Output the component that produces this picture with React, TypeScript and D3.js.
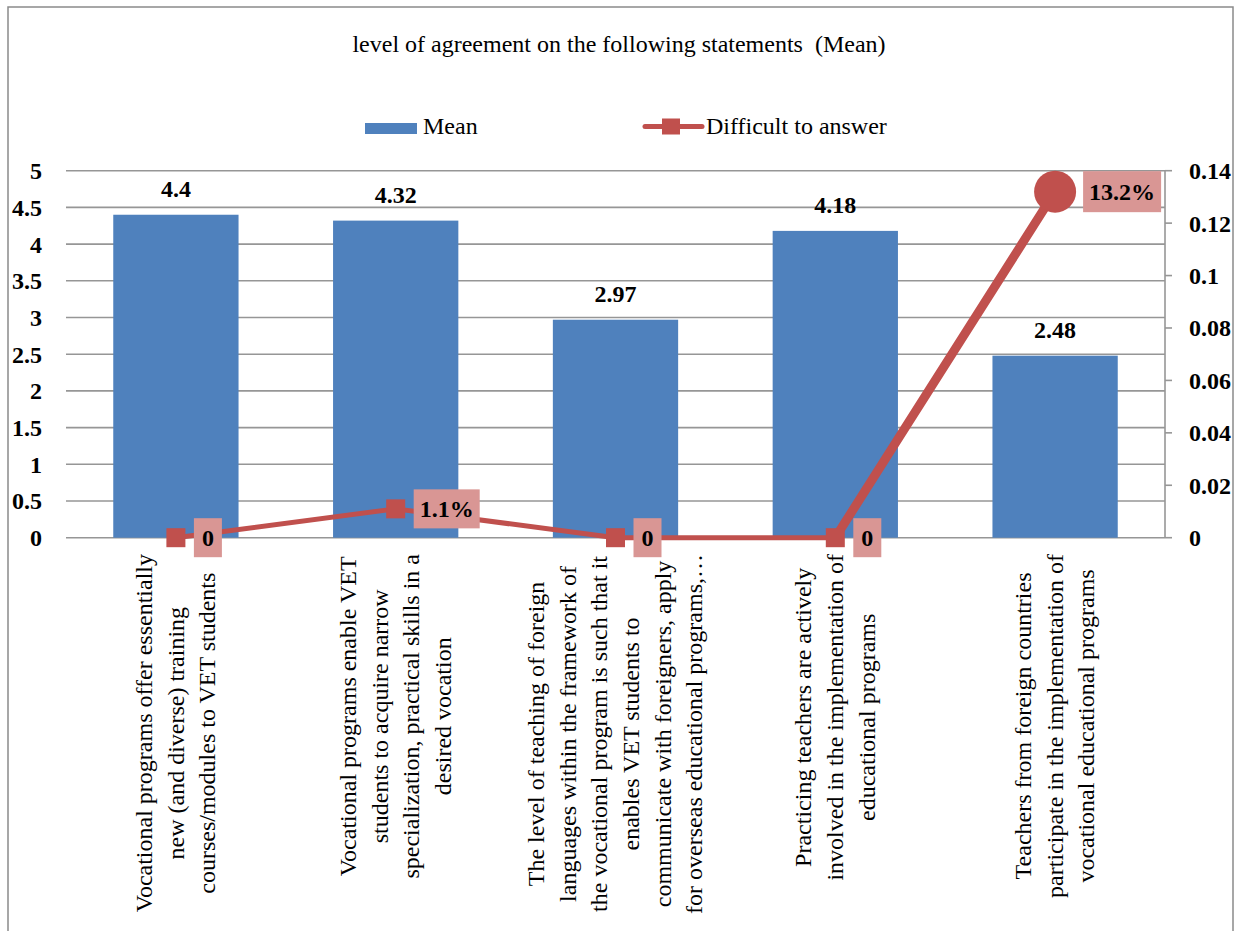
import React, { useEffect, useRef } from "react";
import * as d3 from "d3";

const TITLE = "level of agreement on the following statements  (Mean)";
const categories = [
  ["Vocational programs offer essentially", "new (and diverse) training", "courses/modules to VET students"],
  ["Vocational programs enable VET", "students to acquire narrow", "specialization, practical skills in a", "desired vocation"],
  ["The level of teaching of foreign", "languages within the framework of", "the vocational program is such that it", "enables VET students to", "communicate with foreigners, apply", "for overseas educational programs,…"],
  ["Practicing teachers are actively", "involved in the implementation of", "educational programs"],
  ["Teachers from foreign countries", "participate in the implementation of", "vocational educational programs"],
];
const meanValues = [4.4, 4.32, 2.97, 4.18, 2.48];
const meanLabels = ["4.4", "4.32", "2.97", "4.18", "2.48"];
const difficultValues = [0, 0.011, 0, 0, 0.132];
const difficultLabels = ["0", "1.1%", "0", "0", "13.2%"];
const leftTicks = [0, 0.5, 1, 1.5, 2, 2.5, 3, 3.5, 4, 4.5, 5];
const leftTickLabels = ["0", "0.5", "1", "1.5", "2", "2.5", "3", "3.5", "4", "4.5", "5"];
const rightTicks = [0, 0.02, 0.04, 0.06, 0.08, 0.1, 0.12, 0.14];
const rightTickLabels = ["0", "0.02", "0.04", "0.06", "0.08", "0.1", "0.12", "0.14"];
const legendLabels = ["Mean", "Difficult to answer"];

const W = 1236, H = 931;
const BAR = "#4F81BD", LINE = "#C0504D", LBOX = "#D99694", GRID = "#969696";
const FS = 24;

export default function App() {
  const ref = useRef<SVGSVGElement | null>(null);
  useEffect(() => {
    const svg = d3.select(ref.current);
    svg.selectAll("*").remove();
    const x0 = 66, x1 = 1165, yT = 170.7, yB = 537.7;
    const ids = categories.map((_, i) => String(i));
    const x = d3.scaleBand().domain(ids).range([x0, x1]).paddingInner(0.43).paddingOuter(0.215);
    const yL = d3.scaleLinear().domain([0, 5]).range([yB, yT]);
    const yR = d3.scaleLinear().domain([0, 0.14]).range([yB, yT]);
    const cx = (i: number) => (x(String(i)) as number) + x.bandwidth() / 2;

    svg.append("rect").attr("x", 8).attr("y", 7).attr("width", 1225).attr("height", 980)
      .attr("fill", "#fff").attr("stroke", "#8a8a8a").attr("stroke-width", 1.5);

    svg.append("text").attr("x", 619).attr("y", 52).attr("text-anchor", "middle")
      .style("white-space", "pre").attr("font-size", FS).text(TITLE);

    // legend
    svg.append("rect").attr("x", 365).attr("y", 123).attr("width", 52).attr("height", 11).attr("fill", BAR);
    svg.append("text").attr("x", 423).attr("y", 133.5).attr("font-size", FS).text(legendLabels[0]);
    svg.append("line").attr("x1", 645).attr("x2", 702).attr("y1", 126.5).attr("y2", 126.5)
      .attr("stroke", LINE).attr("stroke-width", 5).attr("stroke-linecap", "round");
    svg.append("rect").attr("x", 662).attr("y", 118.5).attr("width", 18).attr("height", 16).attr("fill", LINE);
    svg.append("text").attr("x", 706).attr("y", 133.5).attr("font-size", FS).text(legendLabels[1]);

    // grid
    svg.append("g").selectAll("line").data(leftTicks).join("line")
      .attr("x1", x0).attr("x2", x1).attr("y1", d => yL(d)).attr("y2", d => yL(d))
      .attr("stroke", GRID).attr("stroke-width", 1.6);
    // left tick labels
    svg.append("g").selectAll("text").data(leftTicks).join("text")
      .attr("x", 42).attr("y", d => yL(d)).attr("dy", "0.35em").attr("text-anchor", "end")
      .attr("font-size", FS).attr("font-weight", "bold")
      .text((_, i) => leftTickLabels[i]);
    // right axis
    svg.append("line").attr("x1", x1).attr("x2", x1).attr("y1", yT).attr("y2", yB).attr("stroke", GRID).attr("stroke-width", 1.6);
    svg.append("g").selectAll("line").data(rightTicks).join("line")
      .attr("x1", x1).attr("x2", x1 + 7).attr("y1", d => yR(d)).attr("y2", d => yR(d))
      .attr("stroke", GRID).attr("stroke-width", 1.6);
    svg.append("g").selectAll("text").data(rightTicks).join("text")
      .attr("x", 1189).attr("y", d => yR(d)).attr("dy", "0.35em")
      .attr("font-size", FS).attr("font-weight", "bold")
      .text((_, i) => rightTickLabels[i]);

    // bars
    svg.append("g").selectAll("rect").data(meanValues).join("rect")
      .attr("x", (_, i) => x(String(i)) as number).attr("width", x.bandwidth())
      .attr("y", d => yL(d)).attr("height", d => yB - yL(d)).attr("fill", BAR);
    svg.append("g").selectAll("text").data(meanValues).join("text")
      .attr("x", (_, i) => cx(i)).attr("y", d => yL(d) - 18).attr("text-anchor", "middle")
      .attr("font-size", FS).attr("font-weight", "bold")
      .text((_, i) => meanLabels[i]);

    // line
    const pts = difficultValues.map((v, i) => [cx(i), yR(v)] as [number, number]);
    const line = d3.line();
    svg.append("path").attr("d", line(pts.slice(0, 4)) as string).attr("fill", "none")
      .attr("stroke", LINE).attr("stroke-width", 5).attr("stroke-linejoin", "round");
    svg.append("path").attr("d", line(pts.slice(3)) as string).attr("fill", "none")
      .attr("stroke", LINE).attr("stroke-width", 9).attr("stroke-linecap", "round");
    pts.slice(0, 4).forEach(([px, py]) => {
      svg.append("rect").attr("x", px - 9.5).attr("y", py - 9.5).attr("width", 19).attr("height", 19).attr("fill", LINE);
    });
    const [lx, ly] = pts[4];
    svg.append("circle").attr("cx", lx).attr("cy", ly).attr("r", 21).attr("fill", LINE);

    // data labels
    pts.forEach(([px, py], i) => {
      const g = svg.append("g");
      const bx = px + (i === 4 ? 28 : 18);
      const t = g.append("text").attr("y", py).attr("dy", "0.35em").attr("text-anchor", "middle")
        .attr("font-size", FS).attr("font-weight", "bold").text(difficultLabels[i]);
      const tw = (t.node() as SVGTextElement).getComputedTextLength();
      const bw = Math.max(tw + 12, 28);
      const bh = i === 4 ? 41 : 39;
      t.attr("x", bx + bw / 2);
      g.insert("rect", "text").attr("x", bx).attr("y", py - bh / 2).attr("width", bw).attr("height", bh).attr("fill", LBOX);
    });

    // category labels
    const top = 554, spacing = 31.7;
    categories.forEach((lines, i) => {
      const g = svg.append("g").attr("transform", `translate(${cx(i)},${top}) rotate(-90)`);
      const n = lines.length;
      const texts = lines.map((s, j) =>
        g.append("text").attr("y", (j - (n - 1) / 2) * spacing).attr("dy", "0.32em")
          .attr("text-anchor", "middle").attr("font-size", FS).text(s));
      const maxLen = d3.max(texts, t => (t.node() as SVGTextElement).getComputedTextLength()) as number;
      texts.forEach(t => t.attr("x", -maxLen / 2));
    });
  }, []);
  return (
    <svg ref={ref} width={W} height={H}
      style={{ position: "absolute", left: 0, top: 0, background: "#fff", fontFamily: "Liberation Serif" }} />
  );
}
